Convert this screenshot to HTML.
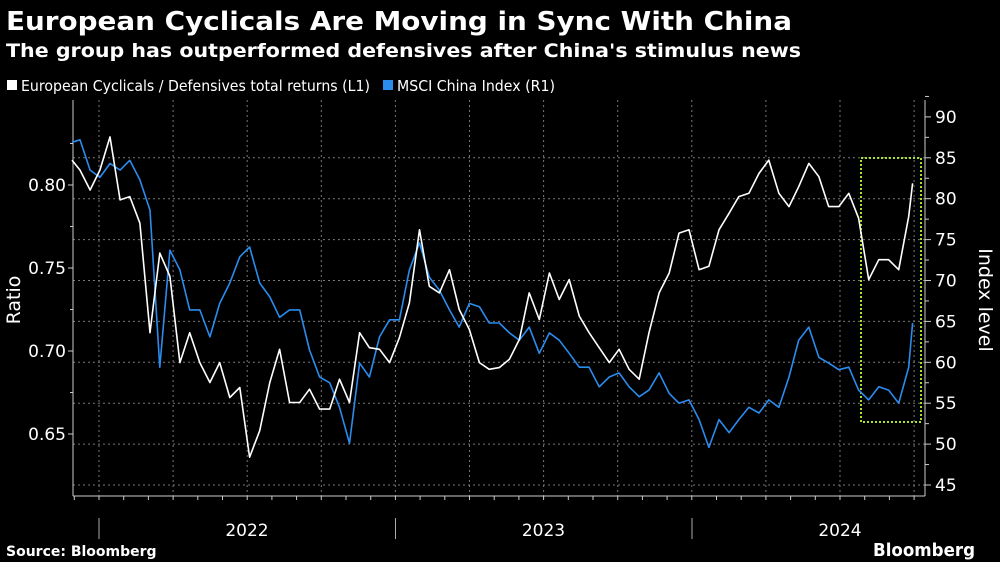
<!DOCTYPE html>
<html><head><meta charset="utf-8"><style>
html,body{margin:0;padding:0;background:#000;width:1000px;height:562px;overflow:hidden}
svg{display:block}
text{font-family:"DejaVu Sans","Liberation Sans",sans-serif;fill:#fff}
</style></head><body>
<svg id="chart" width="1000" height="562" viewBox="0 0 1000 562">
<rect width="1000" height="562" fill="#000"/>
<text x="6" y="30" font-size="26" font-weight="bold" textLength="786" lengthAdjust="spacingAndGlyphs">European Cyclicals Are Moving in Sync With China</text>
<text x="6" y="57" font-size="19" font-weight="bold" textLength="795" lengthAdjust="spacingAndGlyphs">The group has outperformed defensives after China's stimulus news</text>
<g>
<rect x="7" y="80" width="10" height="10" fill="#fff"/>
<text x="21" y="91" font-size="15" textLength="349" lengthAdjust="spacingAndGlyphs">European Cyclicals / Defensives total returns (L1)</text>
<rect x="383" y="80" width="10" height="10" fill="#2b8cee"/>
<text x="397" y="91" font-size="15" textLength="158" lengthAdjust="spacingAndGlyphs">MSCI China Index (R1)</text>
</g>
<g id="grid"></g>
<g id="axes"></g>
<rect x="861" y="158" width="60" height="264" fill="none" stroke="#a6e22e" stroke-width="2" stroke-dasharray="2,2"/>
<g id="series"></g>
<text transform="translate(20,300) rotate(-90)" font-size="19" text-anchor="middle">Ratio</text>
<text transform="translate(979,300) rotate(90)" font-size="19" text-anchor="middle">Index level</text>
<text x="6" y="556" font-size="14" font-weight="bold">Source: Bloomberg</text>
<text x="975" y="556" font-size="18" font-weight="bold" text-anchor="end" textLength="102" lengthAdjust="spacingAndGlyphs">Bloomberg</text>
</svg>
<script>
const dates=[2021.909,2021.936,2021.970,2022.003,2022.037,2022.071,2022.104,2022.138,2022.172,2022.205,2022.239,2022.273,2022.306,2022.340,2022.374,2022.407,2022.441,2022.475,2022.508,2022.542,2022.576,2022.609,2022.643,2022.677,2022.710,2022.744,2022.778,2022.811,2022.845,2022.879,2022.912,2022.946,2022.980,2023.013,2023.047,2023.081,2023.114,2023.148,2023.182,2023.215,2023.249,2023.283,2023.316,2023.350,2023.384,2023.418,2023.451,2023.485,2023.519,2023.552,2023.586,2023.620,2023.653,2023.687,2023.721,2023.754,2023.788,2023.822,2023.855,2023.889,2023.923,2023.956,2023.990,2024.024,2024.057,2024.091,2024.125,2024.158,2024.192,2024.226,2024.259,2024.293,2024.327,2024.360,2024.394,2024.428,2024.461,2024.495,2024.529,2024.562,2024.596,2024.630,2024.663,2024.697,2024.731,2024.744];
const ratioValues=[.815,.809,.797,.809,.829,.791,.793,.777,.711,.759,.745,.693,.711,.693,.681,.693,.672,.678,.636,.652,.681,.701,.669,.669,.677,.665,.665,.683,.669,.711,.702,.701,.693,.708,.729,.773,.739,.735,.749,.725,.713,.693,.689,.690,.695,.707,.735,.719,.747,.731,.743,.721,.711,.702,.693,.701,.689,.683,.711,.735,.747,.771,.773,.749,.751,.773,.783,.793,.795,.807,.815,.795,.787,.799,.813,.805,.787,.787,.795,.780,.743,.755,.755,.749,.781,.801];
const chinaValues=[86.9,87.2,83.5,82.6,84.3,83.5,84.7,82.3,78.6,59.4,73.7,71.3,66.4,66.4,63.1,67.2,69.7,72.9,74.1,69.7,68.0,65.5,66.4,66.4,61.5,58.2,57.5,54.5,50.1,59.9,58.2,63.1,65.2,65.2,71.3,74.6,70.4,68.8,66.4,64.3,67.2,66.8,64.8,64.8,63.6,62.7,64.3,61.1,63.6,62.7,61.1,59.4,59.4,57.0,58.2,58.7,57.0,55.8,56.6,58.7,56.2,55.0,55.4,53.0,49.6,53.0,51.4,53.0,54.5,53.8,55.4,54.5,58.2,62.7,64.3,60.6,59.9,59.1,59.4,56.6,55.4,57.0,56.6,55.0,59.4,64.8];
const leftTicks=[0.65,0.70,0.75,0.80];
const leftTickLabels=["0.65","0.70","0.75","0.80"];
const rightTicks=[45,50,55,60,65,70,75,80,85,90];
const yearLabels=["2022","2023","2024"];
const yearStarts=[2022,2023,2024];

const NS="http://www.w3.org/2000/svg";
const X0=73,X1=925,YB=496;
function xScale(t){return 99+(t-2022)*296.5;}
function yLeft(v){return 185+(0.80-v)/0.05*83;}
function yRight(v){return 485-(v-45)/5*40.9;}
function mk(tag,attrs,parent){const e=document.createElementNS(NS,tag);for(const k in attrs)e.setAttribute(k,attrs[k]);parent.appendChild(e);return e;}
const grid=document.getElementById('grid'),axes=document.getElementById('axes'),series=document.getElementById('series');

rightTicks.forEach(v=>{const y=yRight(v);
 if(v<90){const g=mk('line',{x1:X0,x2:X1,y1:y,y2:y,stroke:'#777','stroke-width':1,'stroke-dasharray':'2,3'},grid);
 
 }
 const t=mk('line',{x1:X1,x2:X1+6,y1:y,y2:y,stroke:'#ccc'},axes);
 
 
 const l=mk('text',{x:X1+10,y:y+6,'font-size':17},axes);l.textContent=v;
 
 
 const m=mk('line',{x1:X1,x2:X1+4,y1:y-20.45,y2:y-20.45,stroke:'#ccc'},axes);
 
 
});
for(let q=0;q<12;q++){const x=99+q*74.1;if(x>X1)break;
 const g=mk('line',{x1:x,x2:x,y1:100,y2:YB,stroke:'#777','stroke-width':1,'stroke-dasharray':'2,3'},grid);
 
 }
for(let m=-3;m<34;m++){const x=99+m*24.7;if(x<X0||x>X1)continue;
 const t=mk('line',{x1:x,x2:x,y1:YB,y2:YB+4,stroke:'#ccc'},axes);
 
 }
yearStarts.forEach((yr,i)=>{const x=xScale(yr);
 const t=mk('line',{x1:x,x2:x,y1:518,y2:539,stroke:'#aaa'},axes);
 
 
 const l=mk('text',{x:x+148,y:536,'font-size':17,'text-anchor':'middle'},axes);l.textContent=yearLabels[i];
 
 });
leftTicks.forEach((v,i)=>{const y=yLeft(v);
 const t=mk('line',{x1:X0-5,x2:X0,y1:y,y2:y,stroke:'#ccc'},axes);
 
 
 const m=mk('line',{x1:X0-3,x2:X0,y1:y-41.5,y2:y-41.5,stroke:'#ccc'},axes);
 
 
 const l=mk('text',{x:X0-7,y:y+6,'font-size':17,'text-anchor':'end'},axes);l.textContent=leftTickLabels[i];
 
 });
const la=mk('line',{x1:X0,x2:X0,y1:100,y2:YB,stroke:'#ccc'},axes);


const ra=mk('line',{x1:X1,x2:X1,y1:100,y2:YB,stroke:'#ccc'},axes);


const ba=mk('line',{x1:X0,x2:X1,y1:YB,y2:YB,stroke:'#ccc'},axes);



const pc=mk('polyline',{points:dates.map((d,i)=>xScale(d).toFixed(1)+','+yRight(chinaValues[i]).toFixed(1)).join(' '),fill:'none',stroke:'#2b8cee','stroke-width':1.6,'stroke-linejoin':'round'},series);


const pr=mk('polyline',{points:dates.map((d,i)=>xScale(d).toFixed(1)+','+yLeft(ratioValues[i]).toFixed(1)).join(' '),fill:'none',stroke:'#fff','stroke-width':1.6,'stroke-linejoin':'round'},series);


</script>
</body></html>
